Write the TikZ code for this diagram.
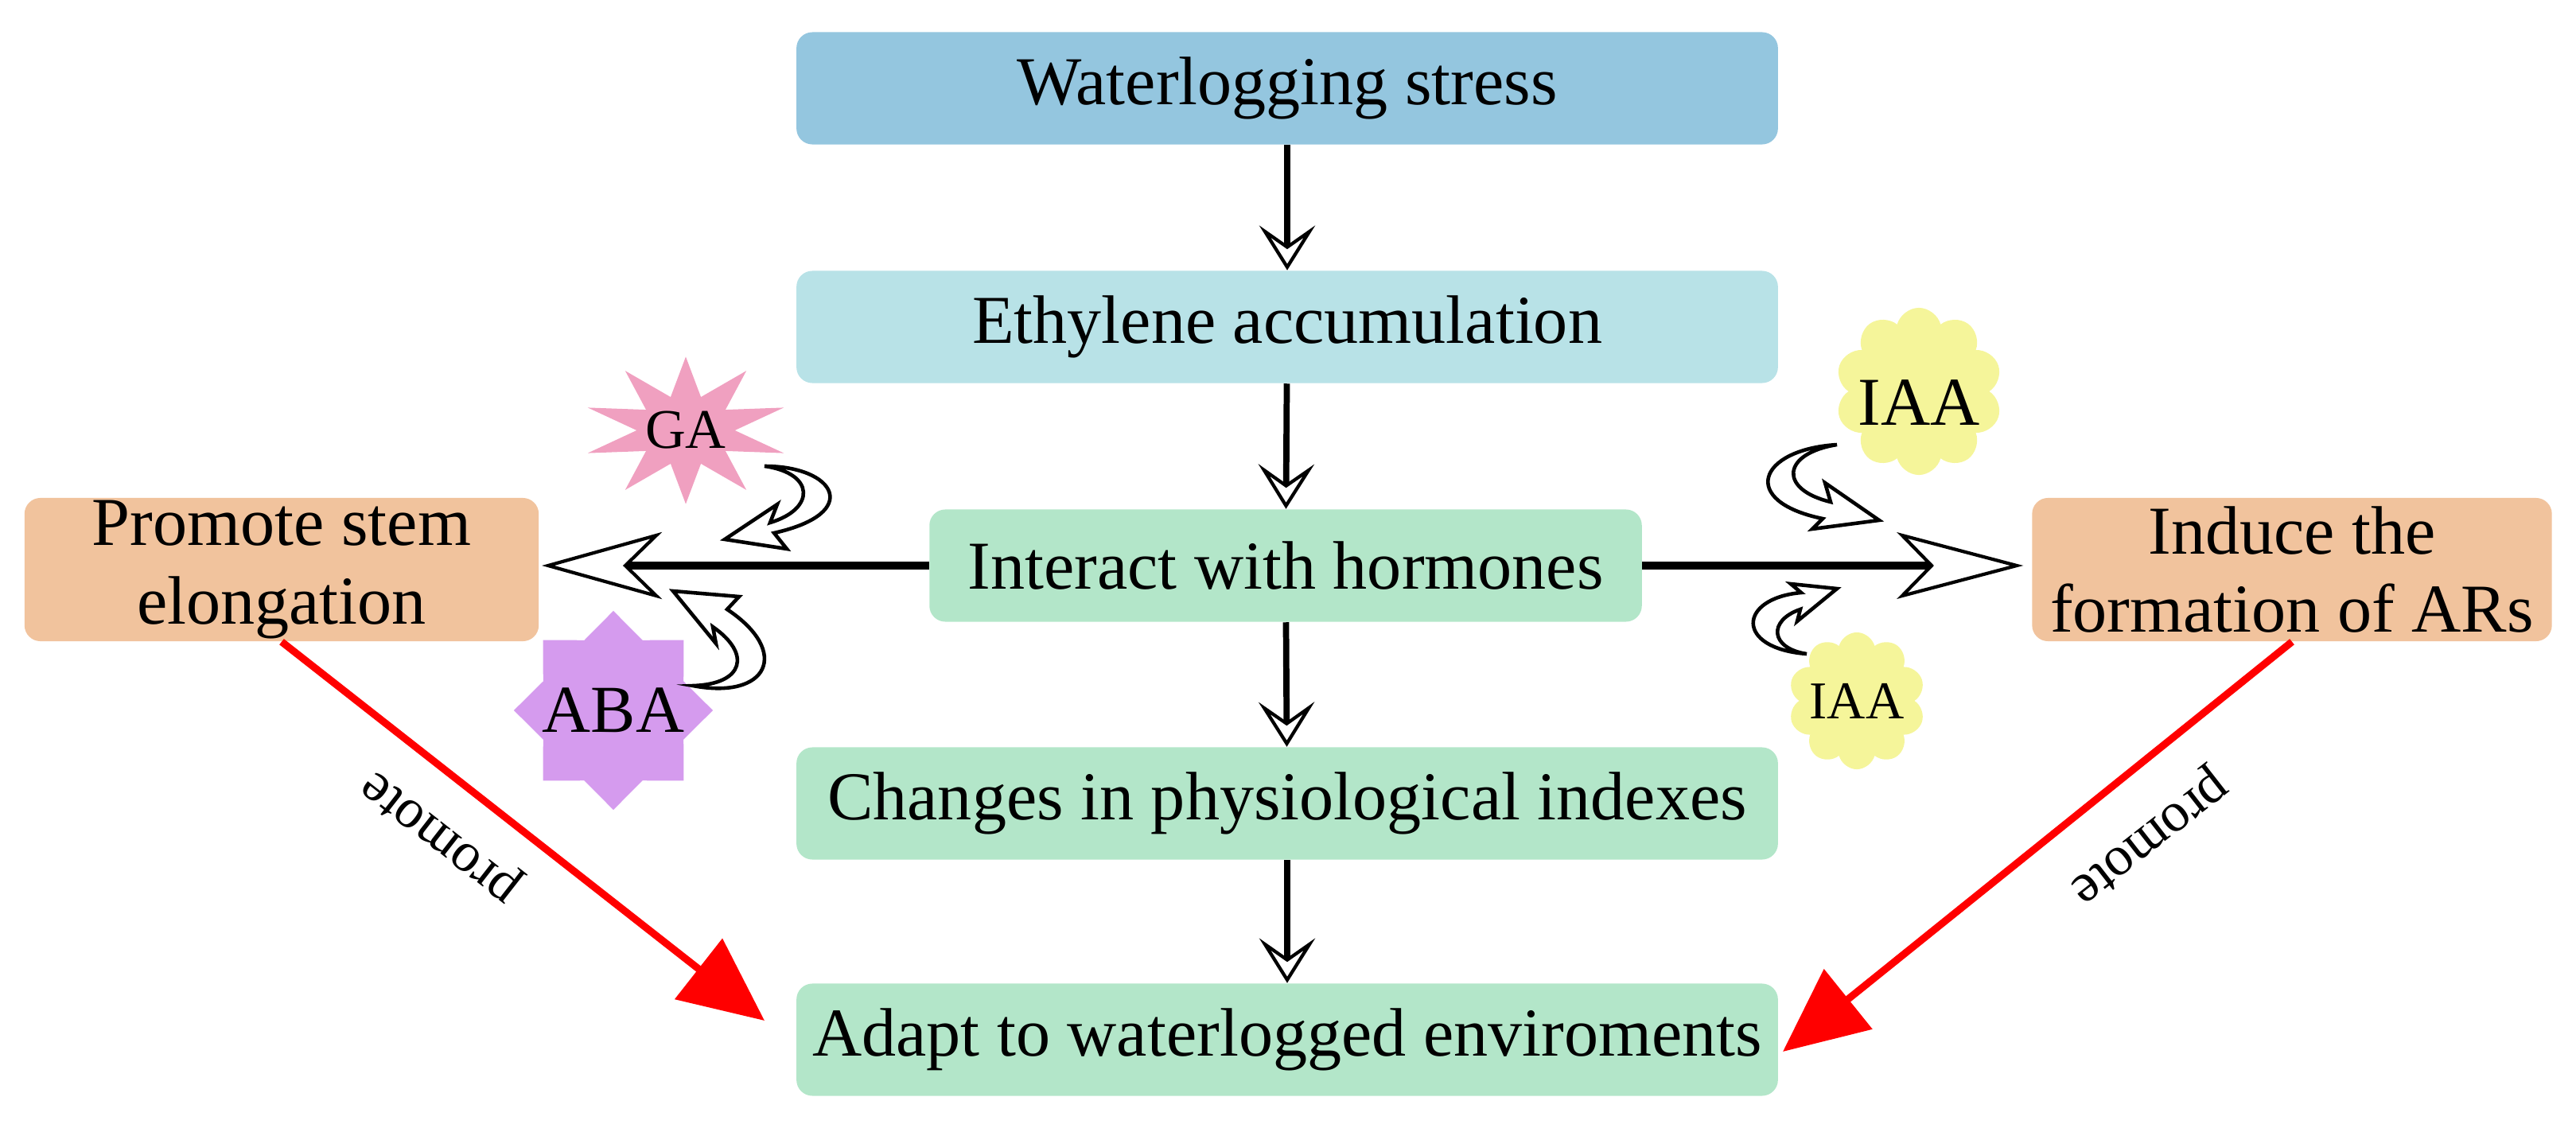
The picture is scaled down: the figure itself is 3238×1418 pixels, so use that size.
\documentclass[tikz,border=0pt]{standalone}
\usepackage{fontspec}
\setmainfont{Liberation Serif}
\usetikzlibrary{arrows.meta,shapes.geometric,shapes.symbols}
\definecolor{cws}{HTML}{94C6DF}
\definecolor{ceth}{HTML}{B8E2E7}
\definecolor{cgr}{HTML}{B3E6C9}
\definecolor{cor}{HTML}{F1C39D}
\definecolor{cga}{HTML}{F0A0C0}
\definecolor{caba}{HTML}{D59BEE}
\definecolor{ciaa}{HTML}{F5F59A}
\begin{document}
\begin{tikzpicture}[x=0.01cm,y=-0.01cm,
  box/.style={rounded corners=0.2cm,inner sep=0pt,font=\fontsize{24.5}{28}\selectfont,align=center},
  vflow/.style={line width=2.2pt,-{Stealth[open,length=16pt,width=20pt,inset=7pt,line width=1.2pt]}},
  hline/.style={line width=3.1pt},
  head/.style={fill=white,draw=black,line width=1.2pt,line join=miter},
  redarr/.style={draw=red,line width=2.6pt,-{Triangle[length=30pt,width=27pt,fill=red]}},
  curv/.style={fill=white,draw=black,line width=1.3pt,line join=miter},
  lab/.style={font=\fontsize{20}{24}\selectfont}]
\useasboundingbox (0,0) rectangle (3238,1418);
\node[box,fill=cws,minimum width=12.33cm,minimum height=1.41cm] (ws) at (1618,111) {Waterlogging stress};
\node[box,fill=ceth,minimum width=12.33cm,minimum height=1.41cm] (eth) at (1618,411) {Ethylene accumulation};
\node[box,fill=cgr,minimum width=8.95cm,minimum height=1.41cm] (int) at (1616,711) {Interact with hormones};
\node[box,fill=cgr,minimum width=12.33cm,minimum height=1.41cm] (chg) at (1618,1010) {Changes in physiological indexes};
\node[box,fill=cgr,minimum width=12.33cm,minimum height=1.41cm] (ad) at (1618,1307) {Adapt to waterlogged enviroments};
\node[box,fill=cor,minimum width=6.46cm,minimum height=1.8cm] (stem) at (354,716) {Promote stem\\elongation};
\node[box,fill=cor,minimum width=6.53cm,minimum height=1.8cm] (ind) at (2881,716) {Induce the\\formation of ARs};

\node[star,star points=10,star point ratio=2.1,minimum size=1.85cm,inner sep=0pt,fill=cga,transform shape,xscale=1.4] (ga) at (862,541) {};
\node[font=\fontsize{20}{24}\selectfont] (gat) at (862,541) {GA};
\node[star,star points=8,star point ratio=1.31,minimum size=2.5cm,inner sep=0pt,fill=caba] (aba) at (771,893) {};
\node[font=\fontsize{24}{28}\selectfont] (abat) at (aba.center) {ABA};
\node[cloud,cloud puffs=10,aspect=1,minimum size=2.1cm,inner sep=0pt,fill=ciaa] (iaa1) at (2412,492) {};
\node[font=\fontsize{24.5}{28}\selectfont] (iaa1t) at (2412,506) {IAA};
\node[cloud,cloud puffs=10,aspect=1,minimum size=1.72cm,inner sep=0pt,fill=ciaa] (iaa2) at (2334,881) {};
\node[font=\fontsize{19}{22}\selectfont] (iaa2t) at (iaa2.center) {IAA};

\draw[vflow] (ws) -- (eth);
\draw[vflow] (eth) -- (int);
\draw[vflow] (int) -- (chg);
\draw[vflow] (chg) -- (ad);
\coordinate (lnotch) at (786,711);
\coordinate (rnotch) at (2428,711);
\draw[hline] (int.west) -- (lnotch);
\draw[hline] (int.east) -- (rnotch);
\draw[head] (689,711) -- (825,673) -- (lnotch) -- (825,749) -- cycle;
\draw[head] (2535,711) -- (2391,673) -- (rnotch) -- (2391,749) -- cycle;

\coordinate (lend) at (961,1283);
\coordinate (rend) at (2241,1322);
\draw[redarr] (stem.south) -- (lend);
\draw[redarr] (ind.south) -- (rend);
\node[lab,rotate=142] (p1) at (556,1050) {promote};
\node[lab,rotate=218] (p2) at (2700,1050) {promote};

\draw[curv] (961,586) .. controls (1050,586) and (1085,645) .. (973,670) -- (989,690) -- (911,678) -- (977,634) -- (968,657) .. controls (1025,640) and (1025,595) .. cycle;
\draw[curv] (871,862) .. controls (965,880) and (995,820) .. (914,766) -- (929,750) -- (846,743) -- (900,809) -- (896,788) .. controls (945,822) and (935,860) .. cycle;
\draw[curv] (2309,559) .. controls (2210,565) and (2185,630) .. (2291,652) -- (2278,665) -- (2362,654) -- (2294,607) -- (2301,631) .. controls (2235,615) and (2240,570) .. cycle;
\draw[curv] (2271,822) .. controls (2180,815) and (2185,752) .. (2264,745) -- (2251,734) -- (2309,740) -- (2259,781) -- (2263,766) .. controls (2222,780) and (2225,815) .. cycle;
\end{tikzpicture}
\end{document}
